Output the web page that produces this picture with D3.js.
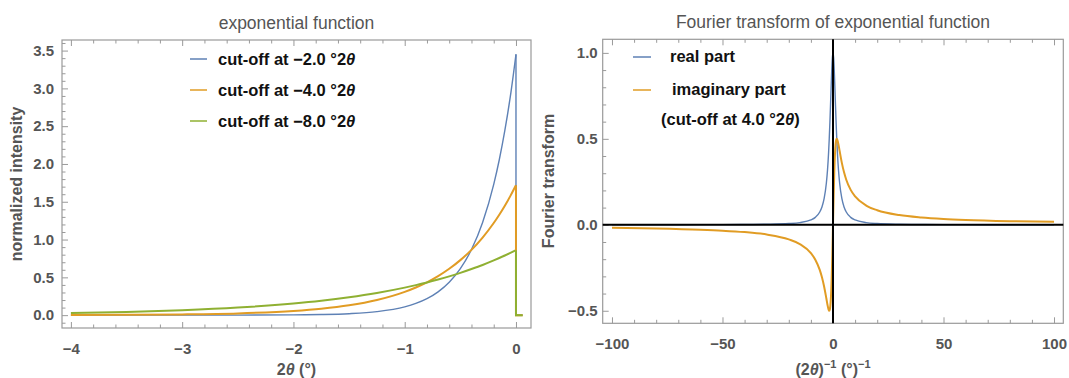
<!DOCTYPE html>
<html>
<head>
<meta charset="utf-8">
<script src="https://cdn.jsdelivr.net/npm/d3@7"></script>
<style>
  body { margin: 0; background: #fff; }
  svg { display: block; font-family: "Liberation Sans", Arial, sans-serif; }
</style>
</head>
<body>
<svg id="chart" width="1069" height="378"></svg>
<script>
// LEFT PANEL DATA
const expX      = [-4, -3.5, -3, -2.5, -2, -1.75, -1.5, -1.25, -1, -0.9, -0.8, -0.7, -0.6, -0.5, -0.4, -0.3, -0.2, -0.15, -0.1, -0.05, 0];
const expBlue   = [0, 0, 0.0001, 0.0006, 0.0035, 0.0082, 0.0195, 0.046, 0.109, 0.155, 0.218, 0.308, 0.435, 0.615, 0.868, 1.226, 1.73, 2.056, 2.443, 2.90, 3.45];
const expOrange = [0.0018, 0.0042, 0.0099, 0.0233, 0.0552, 0.0848, 0.130, 0.200, 0.308, 0.366, 0.434, 0.516, 0.613, 0.728, 0.864, 1.027, 1.219, 1.329, 1.448, 1.578, 1.72];
const expGreen  = [0.0276, 0.0424, 0.0652, 0.100, 0.154, 0.191, 0.237, 0.2935, 0.364, 0.397, 0.432, 0.471, 0.513, 0.559, 0.610, 0.664, 0.724, 0.756, 0.789, 0.824, 0.86];
const cutoffTailX = [0, 0, 0.06];
const expLabels = ["\u22122.0", "\u22124.0", "\u22128.0"];

// RIGHT PANEL DATA
const ftX    = [-100, -80, -60, -50, -40, -30, -20, -15, -10, -8, -6, -5, -4, -3, -2.5, -2, -1.7, -1.4, -1, -0.6, -0.3, 0,
                0.3, 0.6, 1, 1.4, 1.7, 2, 2.5, 3, 4, 5, 6, 8, 10, 15, 20, 30, 40, 50, 60, 80, 100];
const ftReal = [0.0003, 0.00045, 0.0008, 0.0012, 0.0018, 0.0032, 0.0072, 0.0127, 0.0281, 0.0432, 0.0743, 0.1036, 0.153, 0.243, 0.316, 0.419, 0.5, 0.596, 0.743, 0.889, 0.970, 1.0,
                0.970, 0.889, 0.743, 0.596, 0.5, 0.419, 0.316, 0.243, 0.153, 0.1036, 0.0743, 0.0432, 0.0281, 0.0127, 0.0072, 0.0032, 0.0018, 0.0012, 0.0008, 0.00045, 0.0003];
const ftImag = [-0.017, -0.0212, -0.0283, -0.034, -0.0425, -0.0565, -0.0847, -0.112, -0.165, -0.203, -0.262, -0.305, -0.360, -0.429, -0.465, -0.493, -0.5, -0.491, -0.437, -0.314, -0.171, 0,
                0.171, 0.314, 0.437, 0.491, 0.5, 0.493, 0.465, 0.429, 0.360, 0.305, 0.262, 0.203, 0.165, 0.112, 0.0847, 0.0565, 0.0425, 0.034, 0.0283, 0.0212, 0.017];

// TICKS
const leftXTicks  = [-4, -3, -2, -1, 0];
const leftYTicks  = [0, 0.5, 1, 1.5, 2, 2.5, 3, 3.5];
const rightXTicks = [-100, -50, 0, 50, 100];
const rightYTicks = [-0.5, 0, 0.5, 1];

// COLOURS
const blue = "#5e81b5", orange = "#e19c24", green = "#8fb032";
const frameGray = "#9a9a9a", labelGray = "#555";

const svg = d3.select("#chart");

function minorTicks(lo, hi, step, majors) {
    return d3.range(Math.round(lo / step), Math.round(hi / step) + 1)
        .map(i => +(i * step).toFixed(4))
        .filter(v => !majors.some(m => Math.abs(m - v) < 1e-6));
}

function drawFrame(x, y, xTicks, xMinor, yTicks, yMinor, fmtX, fmtY, padY) {
    const g = svg.append("g");
    const [x0, x1] = x.range(), [y0, y1] = y.range();

    const styleAxis = sel => {
        sel.select(".domain").remove();
        sel.selectAll("line").attr("stroke", frameGray);
        sel.selectAll("text").attr("fill", labelGray).attr("font-size", 15).attr("font-weight", "bold");
    };

    g.append("g").attr("transform", `translate(0,${y0})`)
        .call(d3.axisBottom(x).tickValues(xTicks).tickSize(-6).tickPadding(15).tickFormat(fmtX)).call(styleAxis);
    g.append("g").attr("transform", `translate(0,${y0})`)
        .call(d3.axisBottom(x).tickValues(xMinor).tickSize(-3.5).tickFormat("")).call(styleAxis);
    g.append("g").attr("transform", `translate(0,${y1})`)
        .call(d3.axisTop(x).tickValues(xTicks).tickSize(-6).tickFormat("")).call(styleAxis);
    g.append("g").attr("transform", `translate(0,${y1})`)
        .call(d3.axisTop(x).tickValues(xMinor).tickSize(-3.5).tickFormat("")).call(styleAxis);
    g.append("g").attr("transform", `translate(${x0},0)`)
        .call(d3.axisLeft(y).tickValues(yTicks).tickSize(-6).tickPadding(padY).tickFormat(fmtY)).call(styleAxis);
    g.append("g").attr("transform", `translate(${x0},0)`)
        .call(d3.axisLeft(y).tickValues(yMinor).tickSize(-3.5).tickFormat("")).call(styleAxis);

    g.append("rect")
        .attr("x", x0).attr("y", y1)
        .attr("width", x1 - x0).attr("height", y0 - y1)
        .attr("fill", "none").attr("stroke", frameGray).attr("stroke-width", 1.2);
    return g;
}

function thetaText(sel, before, after) {
    sel.append("tspan").text(before);
    sel.append("tspan").attr("font-style", "italic").text("\u03b8");
    if (after) sel.append("tspan").text(after);
}

// ---------------- LEFT PANEL ----------------
const lx = d3.scaleLinear().domain([-4.08, 0.135]).range([62, 531]);
const ly = d3.scaleLinear().domain([-0.17, 3.64]).range([328, 40]);

drawFrame(lx, ly, leftXTicks, minorTicks(-4, 0, 0.2, leftXTicks), leftYTicks, minorTicks(-0.1, 3.6, 0.1, leftYTicks),
    d3.format("d"), d3.format(".1f"), 8);

const lineL = d3.line().x(d => lx(d[0])).y(d => ly(d[1])).curve(d3.curveMonotoneX);
const lineLin = d3.line().x(d => lx(d[0])).y(d => ly(d[1]));
const leftSeries = [
    {vals: expBlue, color: blue, w: 1.4},
    {vals: expOrange, color: orange, w: 2},
    {vals: expGreen, color: green, w: 2}
];
leftSeries.forEach(s => {
    svg.append("path").datum(expX.map((v, i) => [v, s.vals[i]]))
        .attr("d", lineL).attr("fill", "none").attr("stroke", s.color).attr("stroke-width", s.w);
});
leftSeries.forEach(s => {
    const peak = s.vals[s.vals.length - 1];
    svg.append("path").datum(cutoffTailX.map((v, i) => [v, i === 0 ? peak : 0]))
        .attr("d", lineLin).attr("fill", "none").attr("stroke", s.color).attr("stroke-width", s.w);
});

// legend
expLabels.forEach((lab, i) => {
    const yy = 59 + i * 31;
    svg.append("line").attr("x1", 190).attr("x2", 207).attr("y1", yy).attr("y2", yy)
        .attr("stroke", leftSeries[i].color).attr("stroke-width", 1.5);
    svg.append("text").attr("x", 218).attr("y", yy + 5.5)
        .attr("font-size", 16.5).attr("font-weight", "bold").attr("fill", "#111")
        .call(thetaText, `cut-off at ${lab} \u00b02`);
});

svg.append("text").attr("x", 296.5).attr("y", 29).attr("text-anchor", "middle")
    .attr("font-size", 17.5).attr("fill", labelGray).text("exponential function");
svg.append("text").attr("x", 296.5).attr("y", 375).attr("text-anchor", "middle")
    .attr("font-size", 16).attr("font-weight", "bold").attr("fill", labelGray)
    .call(thetaText, "2", " (\u00b0)");
svg.append("text").attr("transform", "translate(22,184) rotate(-90)").attr("text-anchor", "middle")
    .attr("font-size", 16).attr("font-weight", "bold").attr("fill", labelGray).text("normalized intensity");

// ---------------- RIGHT PANEL ----------------
const rx = d3.scaleLinear().domain([-104.2, 104.2]).range([602.7, 1063.3]);
const ry = d3.scaleLinear().domain([-0.573, 1.079]).range([323.3, 39.3]);

drawFrame(rx, ry, rightXTicks, minorTicks(-100, 100, 10, rightXTicks), rightYTicks, minorTicks(-0.5, 1.0, 0.1, rightYTicks),
    d3.format("d"), d3.format(".1f"), 5);

const lineR = d3.line().x(d => rx(d[0])).y(d => ry(d[1])).curve(d3.curveMonotoneX);
svg.append("path").datum(ftX.map((v, i) => [v, ftReal[i]]))
    .attr("d", lineR).attr("fill", "none").attr("stroke", blue).attr("stroke-width", 1.4);
svg.append("path").datum(ftX.map((v, i) => [v, ftImag[i]]))
    .attr("d", lineR).attr("fill", "none").attr("stroke", orange).attr("stroke-width", 2);

// black axes through origin
svg.append("line").attr("x1", rx.range()[0]).attr("x2", rx.range()[1]).attr("y1", ry(0)).attr("y2", ry(0))
    .attr("stroke", "#000").attr("stroke-width", 2);
svg.append("line").attr("x1", rx(0)).attr("x2", rx(0)).attr("y1", ry.range()[0]).attr("y2", ry.range()[1])
    .attr("stroke", "#000").attr("stroke-width", 2);

// legend
const legTxt = (x, y) => svg.append("text").attr("x", x).attr("y", y)
    .attr("font-size", 16.5).attr("font-weight", "bold").attr("fill", "#111");
svg.append("line").attr("x1", 633).attr("x2", 651).attr("y1", 57).attr("y2", 57).attr("stroke", blue).attr("stroke-width", 1.5);
legTxt(670, 62).text("real part");
svg.append("line").attr("x1", 633).attr("x2", 651).attr("y1", 90).attr("y2", 90).attr("stroke", orange).attr("stroke-width", 1.5);
legTxt(672, 95).text("imaginary part");
legTxt(661, 125).call(thetaText, "(cut-off at 4.0 \u00b02", ")");

svg.append("text").attr("x", 833).attr("y", 28).attr("text-anchor", "middle")
    .attr("font-size", 17.5).attr("fill", labelGray).text("Fourier transform of exponential function");
svg.append("text").attr("transform", "translate(554,181) rotate(-90)").attr("text-anchor", "middle")
    .attr("font-size", 16).attr("font-weight", "bold").attr("fill", labelGray).text("Fourier transform");

const xl = svg.append("text").attr("x", 833).attr("y", 375).attr("text-anchor", "middle")
    .attr("font-size", 16).attr("font-weight", "bold").attr("fill", labelGray);
xl.append("tspan").text("(2");
xl.append("tspan").attr("font-style", "italic").text("\u03b8");
xl.append("tspan").text(")");
xl.append("tspan").attr("font-size", 11).attr("dy", -7).text("\u22121");
xl.append("tspan").attr("dy", 7).text(" (\u00b0)");
xl.append("tspan").attr("font-size", 11).attr("dy", -7).text("\u22121");
</script>
</body>
</html>
